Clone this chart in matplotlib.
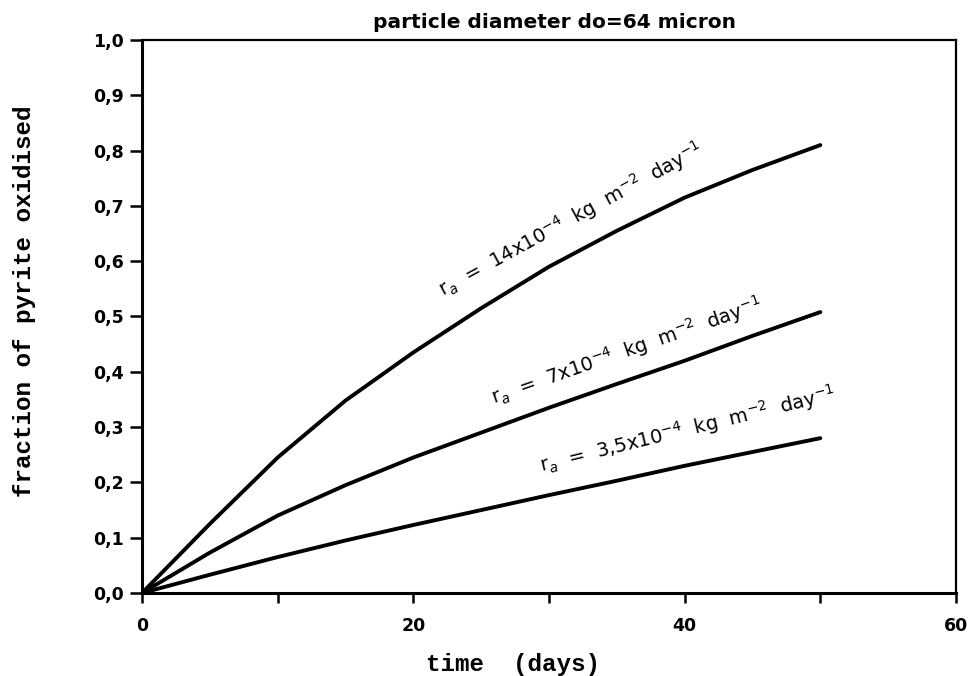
import matplotlib
matplotlib.use("Agg")
import matplotlib.pyplot as plt
from matplotlib.ticker import FuncFormatter, MultipleLocator

# время, сутки
days = [0, 5, 10, 15, 20, 25, 30, 35, 40, 45, 50]

# доля окисленного пирита при разных скоростях rₐ
frac_14 = [0.0, 0.125, 0.245, 0.348, 0.435, 0.515, 0.59, 0.655, 0.715, 0.765, 0.81]
frac_7 = [0.0, 0.073, 0.14, 0.195, 0.245, 0.29, 0.335, 0.378, 0.42, 0.465, 0.508]
frac_35 = [0.0, 0.033, 0.065, 0.095, 0.123, 0.15, 0.177, 0.203, 0.23, 0.255, 0.28]

labels = [
    r"r$_a$  =  14x10$^{-4}$  kg  m$^{-2}$  day$^{-1}$",
    r"r$_a$  =  7x10$^{-4}$  kg  m$^{-2}$  day$^{-1}$",
    r"r$_a$  =  3,5x10$^{-4}$  kg  m$^{-2}$  day$^{-1}$",
]

x_ticklabels = ["0", "20", "40", "60"]

fig = plt.figure(figsize=(9.72, 6.76), dpi=100)
ax = fig.add_axes([142 / 972, 1 - 593 / 676, (956 - 142) / 972, (593 - 40) / 676])

for ys in (frac_14, frac_7, frac_35):
    ax.plot(days, ys, color="black", linewidth=2.8, solid_capstyle="round")

# подписи вдоль кривых
ax.text(31.6, 0.676, labels[0], rotation=28.6, rotation_mode="anchor",
        ha="center", va="center", fontsize=14)
ax.text(35.7, 0.438, labels[1], rotation=19.2, rotation_mode="anchor",
        ha="center", va="center", fontsize=14)
ax.text(40.2, 0.295, labels[2], rotation=13.7, rotation_mode="anchor",
        ha="center", va="center", fontsize=14)

ax.set_xlim(0, 60)
ax.set_ylim(0, 1.0)

ax.xaxis.set_major_locator(MultipleLocator(10))
ax.xaxis.set_major_formatter(
    FuncFormatter(lambda v, p: x_ticklabels[int(round(v)) // 20] if int(round(v)) % 20 == 0 else ""))
ax.yaxis.set_major_locator(MultipleLocator(0.1))
ax.yaxis.set_major_formatter(FuncFormatter(lambda v, p: f"{v:.1f}".replace(".", ",")))

ax.tick_params(axis="x", direction="out", length=7, width=1.8, pad=10, labelsize=12.5)
ax.tick_params(axis="y", direction="out", length=9, width=1.8, pad=4, labelsize=12.5)
for lab in ax.get_xticklabels() + ax.get_yticklabels():
    lab.set_fontweight("bold")

for side, sp in ax.spines.items():
    sp.set_linewidth(2.2 if side in ("left", "bottom") else 1.6)

fig.text(554 / 972, 1 - 23 / 676, "particle diameter do=64 micron",
         ha="center", va="center", fontsize=14.5, fontweight="bold")
fig.text(513 / 972, 1 - 665 / 676, "time  (days)", ha="center", va="center",
         fontsize=17.5, fontweight="bold", family="Liberation Mono")
fig.text(25 / 972, 1 - 301 / 676, "fraction of pyrite oxidised", ha="center",
         va="center", rotation=90, fontsize=17.5, fontweight="bold",
         family="Liberation Mono")

fig.savefig("out.png", dpi=100)
